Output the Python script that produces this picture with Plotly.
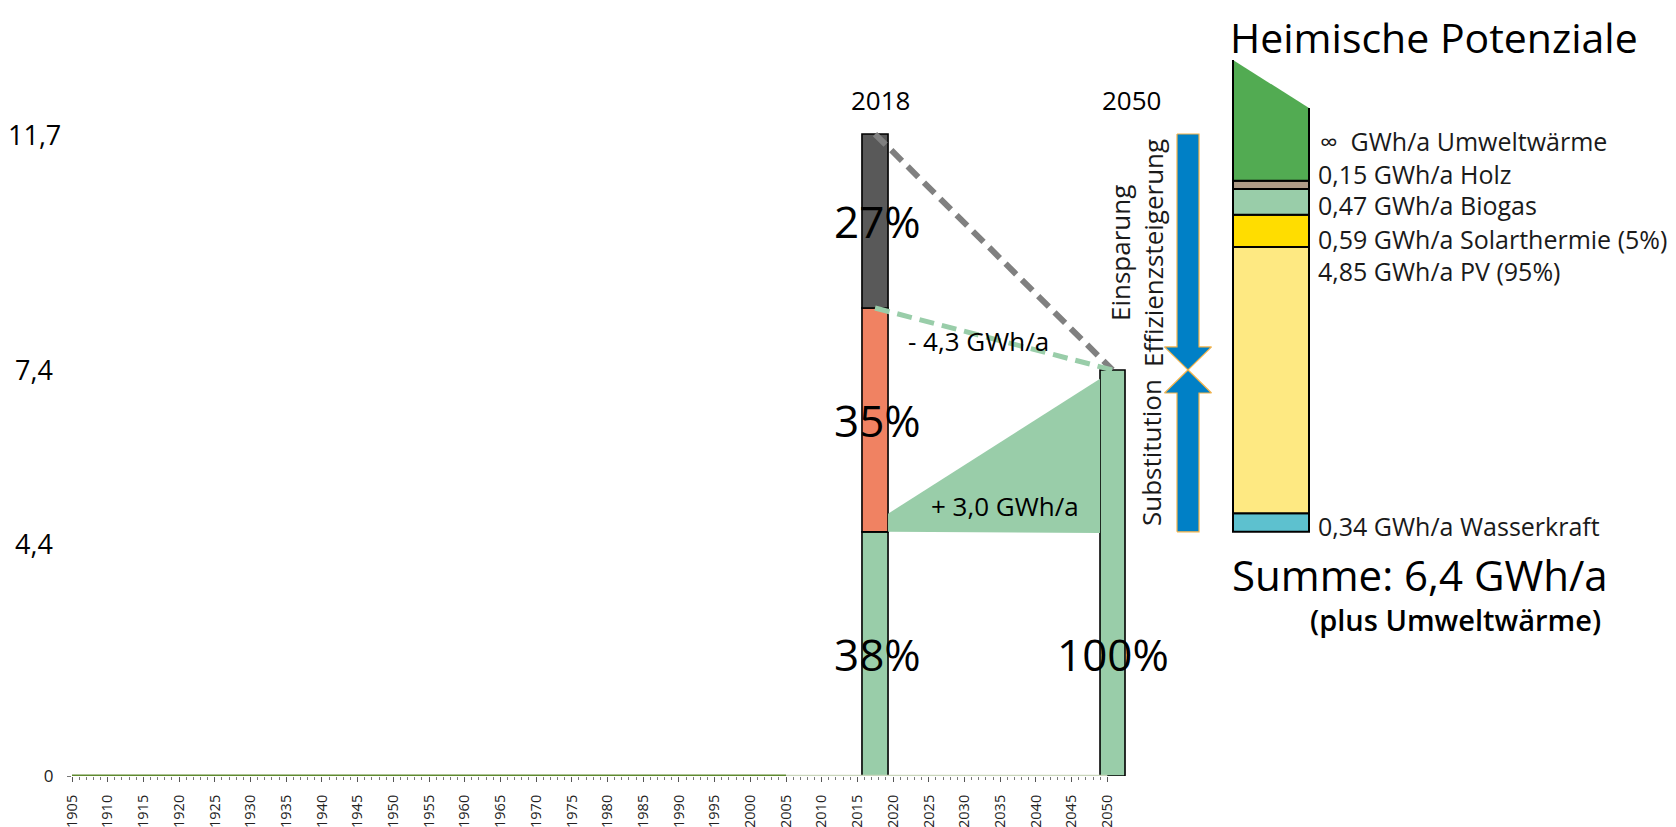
import plotly.graph_objects as go

# ---------------- data ----------------
tick_years = list(range(1905, 2051, 5))
minor_years = list(range(1905, 2051))
tick_labels = [str(y) for y in tick_years]

hist_years = [1905, 2005]
hist_values = [0.0, 0.0]
proj_years = [2005, 2050]
proj_values = [0.0, 0.0]

bar_years = [2018, 2050]
seg_2018 = [4.45, 4.08, 3.17]          # green (erneuerbar), red (substitution), grey (einsparung)
seg_2018_pct = ["38%", "35%", "27%"]
seg_colors = ["#99CDA9", "#F08262", "#595959"]
total_2050 = 7.4
pct_2050 = "100%"
saving_label = "- 4,3 GWh/a"
subst_label = "+ 3,0 GWh/a"

y_label_vals = [4.4, 7.4, 11.7]
y_label_text = ["4,4", "7,4", "11,7"]

pot_values = [0.34, 4.85, 0.59, 0.47, 0.15]
pot_colors = ["#5DC1CF", "#FEE982", "#FFDD00", "#99CDA9", "#AE9A86"]
pot_labels = ["0,34 GWh/a Wasserkraft", "4,85 GWh/a PV (95%)",
              "0,59 GWh/a Solarthermie (5%)", "0,47 GWh/a Biogas", "0,15 GWh/a Holz"]
umwelt_label = "\u221e  GWh/a Umweltw\u00e4rme"
umwelt_color = "#52AB52"
title_text = "Heimische Potenziale"
sum_label = "Summe: 6,4 GWh/a"
sum_note = "(plus Umweltw\u00e4rme)"

# ---------------- geometry helpers (layout only) ----------------
W, H = 1676, 827
SX, SY = 7, 7                 # global placement correction
REF_L, REF_B = 71, 775        # reference pixel of (1905, 0) before correction
ML = REF_L - SX
PLOT_BOTTOM = REF_B - SY
MB = H - PLOT_BOTTOM
PX_YR = 7.14
PX_UNIT = 54.87


def px2x(px):
    return 1905 + (px - REF_L) / PX_YR


def px2y(py):
    return (REF_B - py) / PX_UNIT


FONT = "Open Sans"

fig = go.Figure()

# bar geometry (style)
w18, off18 = 3.65, -2.36
w50, off50 = 3.5, -1.02
c18 = bar_years[0] + off18 + w18 / 2
c50 = bar_years[1] + off50 + w50 / 2
r18 = bar_years[0] + off18 + w18
l50 = bar_years[1] + off50

g18 = seg_2018[0]
top_red = seg_2018[0] + seg_2018[1]
top18 = sum(seg_2018)

# substitution wedge
fig.add_trace(go.Scatter(
    x=[r18, r18, l50, l50, r18],
    y=[g18, g18 + 0.33, total_2050 - 0.16, g18 - 0.02, g18],
    fill="toself", fillcolor="#99CDA9", mode="none", hoverinfo="skip", showlegend=False))

# dashed connection lines
fig.add_trace(go.Scatter(x=[c18, c50], y=[top18, total_2050], mode="lines",
                         line=dict(color="#808080", width=6, dash="15px,8px"),
                         hoverinfo="skip", showlegend=False))
fig.add_trace(go.Scatter(x=[c18, c50], y=[top_red, total_2050], mode="lines",
                         line=dict(color="#99CDA9", width=5, dash="15px,8px"),
                         hoverinfo="skip", showlegend=False))

# series along zero
fig.add_trace(go.Scatter(x=proj_years, y=proj_values, mode="lines",
                         line=dict(color="#C9D5BB", width=2.5), cliponaxis=False,
                         hoverinfo="skip", showlegend=False))
fig.add_trace(go.Scatter(x=hist_years, y=hist_values, mode="lines",
                         line=dict(color="#5F8A2F", width=3), cliponaxis=False,
                         hoverinfo="skip", showlegend=False))

# blue arrows
ax_c = px2x(1187)
sw = 11 / PX_YR
hw = 23.5 / PX_YR
hh = 0.42
down = [(ax_c - sw, top18), (ax_c + sw, top18), (ax_c + sw, total_2050 + hh),
        (ax_c + hw, total_2050 + hh), (ax_c, total_2050), (ax_c - hw, total_2050 + hh),
        (ax_c - sw, total_2050 + hh), (ax_c - sw, top18)]
up = [(ax_c - sw, g18), (ax_c + sw, g18), (ax_c + sw, total_2050 - hh),
      (ax_c + hw, total_2050 - hh), (ax_c, total_2050), (ax_c - hw, total_2050 - hh),
      (ax_c - sw, total_2050 - hh), (ax_c - sw, g18)]
for poly in (down, up):
    fig.add_trace(go.Scatter(x=[p[0] for p in poly], y=[p[1] for p in poly],
                             fill="toself", fillcolor="#0080C6", mode="lines",
                             line=dict(color="#F2B24A", width=1.2),
                             hoverinfo="skip", showlegend=False))

# Umweltwaerme wedge on top of the potentials stack
px_l, px_r = px2x(1232), px2x(1308)
pot_x = (px_l + px_r) / 2
pot_w = px_r - px_l
stack_top = g18 + sum(pot_values)
u_top_l, u_top_r = px2y(59), px2y(107)
fig.add_trace(go.Scatter(x=[px_l, px_l, px_r, px_r, px_l],
                         y=[stack_top, u_top_l, u_top_r, stack_top, stack_top],
                         fill="toself", fillcolor=umwelt_color, mode="none",
                         hoverinfo="skip", showlegend=False))
fig.add_trace(go.Scatter(x=[px_l, px_l, px_r, px_r],
                         y=[u_top_l, stack_top, stack_top, u_top_r], mode="lines",
                         line=dict(color="black", width=2), hoverinfo="skip", showlegend=False))

# 2018 stacked bar
base = 0
for v, c in zip(seg_2018, seg_colors):
    fig.add_trace(go.Bar(x=[bar_years[0]], y=[v], base=[base], width=[w18], offset=[off18],
                         marker=dict(color=c, line=dict(color="black", width=1.6)),
                         hoverinfo="skip", showlegend=False))
    base += v
# 2050 bar
fig.add_trace(go.Bar(x=[bar_years[1]], y=[total_2050], base=[0], width=[w50], offset=[off50],
                     marker=dict(color=seg_colors[0], line=dict(color="black", width=1.6)),
                     hoverinfo="skip", showlegend=False))
# potentials stack
base = g18
for v, c in zip(pot_values, pot_colors):
    fig.add_trace(go.Bar(x=[pot_x], y=[v], base=[base], width=[pot_w],
                         marker=dict(color=c, line=dict(color="black", width=2)),
                         hoverinfo="skip", showlegend=False))
    base += v

ann = []


def text(x, y, t, size, xref="x", yref="y", xanchor="center", angle=0, color="#000",
         weight="normal", yshift=0, yanchor="middle"):
    ann.append(dict(x=x, y=y, xref=xref, yref=yref, text=t, showarrow=False,
                    xanchor=xanchor, yanchor=yanchor, textangle=angle, yshift=yshift,
                    borderpad=0,
                    font=dict(family=FONT, size=size, color=color, weight=weight)))


# year headers
text(px2x(879), px2y(99), str(bar_years[0]), 26)
text(px2x(1130), px2y(99), str(bar_years[1]), 26)

# y labels
for v, t in zip(y_label_vals, y_label_text):
    text((33 - SX - ML) / (W - ML), v, t, 27, xref="paper",
         yshift=-9 if t == "4,4" else 0)

# percentages
b = 0
for v, t in zip(seg_2018, seg_2018_pct):
    text(c18 + 0.3, b + v / 2, t, 44)
    b += v
text(c50, g18 / 2, pct_2050, 44)

text(px2x(977), px2y(340), saving_label, 26)
text(px2x(1004), px2y(505), subst_label, 26)

text(px2x(1119), px2y(252), "Einsparung", 26, angle=-90, color="#1a1a1a")
text(px2x(1152), px2y(252), "Effizienzsteigerung", 26, angle=-90, color="#1a1a1a")
text(px2x(1150), px2y(452), "Substitution", 26, angle=-90, color="#1a1a1a")

# potentials labels
lab_x = px2x(1316)
text(px2x(1318), px2y(140), umwelt_label, 25, xanchor="left", color="#1a1a1a")
for t, py in zip(pot_labels, [525, 270, 238, 204, 173]):
    text(lab_x, px2y(py), t, 25, xanchor="left", color="#1a1a1a")

# title: box anchored at the very top edge so it is not cut off
text(px2x(1228), 1.0, title_text, 41, yref="paper", xanchor="left", yanchor="top")
text(px2x(1230), px2y(573), sum_label, 42, xanchor="left")
text(px2x(1308), px2y(618), sum_note, 29, xanchor="left", weight=600)

fig.update_layout(
    width=W, height=H,
    margin=dict(l=ML, r=0, t=0, b=MB),
    paper_bgcolor="white", plot_bgcolor="white",
    barmode="overlay",
    showlegend=False,
    annotations=ann,
    font=dict(family=FONT, color="#000"),
)
fig.update_xaxes(range=[1905, px2x(W + SX)], showgrid=False, zeroline=False, showline=False,
                 automargin=False,
                 tickmode="array", tickvals=tick_years, ticktext=tick_labels,
                 ticks="outside", ticklen=5, tickcolor="#555", tickwidth=1,
                 tickangle=-90, tickfont=dict(family=FONT, size=14.5, color="#222"),
                 ticklabelstandoff=7,
                 minor=dict(tickmode="array", tickvals=minor_years, ticks="outside",
                            ticklen=3, tickcolor="#777", tickwidth=1))
fig.update_yaxes(range=[0, px2y(SY)], showgrid=False, zeroline=False, showline=False,
                 automargin=False,
                 tickmode="array", tickvals=[0], ticktext=["0"], ticks="outside",
                 ticklen=4, tickcolor="#777", tickfont=dict(family=FONT, size=17, color="#222"),
                 ticklabelstandoff=10)

fig.write_html("out.html")
